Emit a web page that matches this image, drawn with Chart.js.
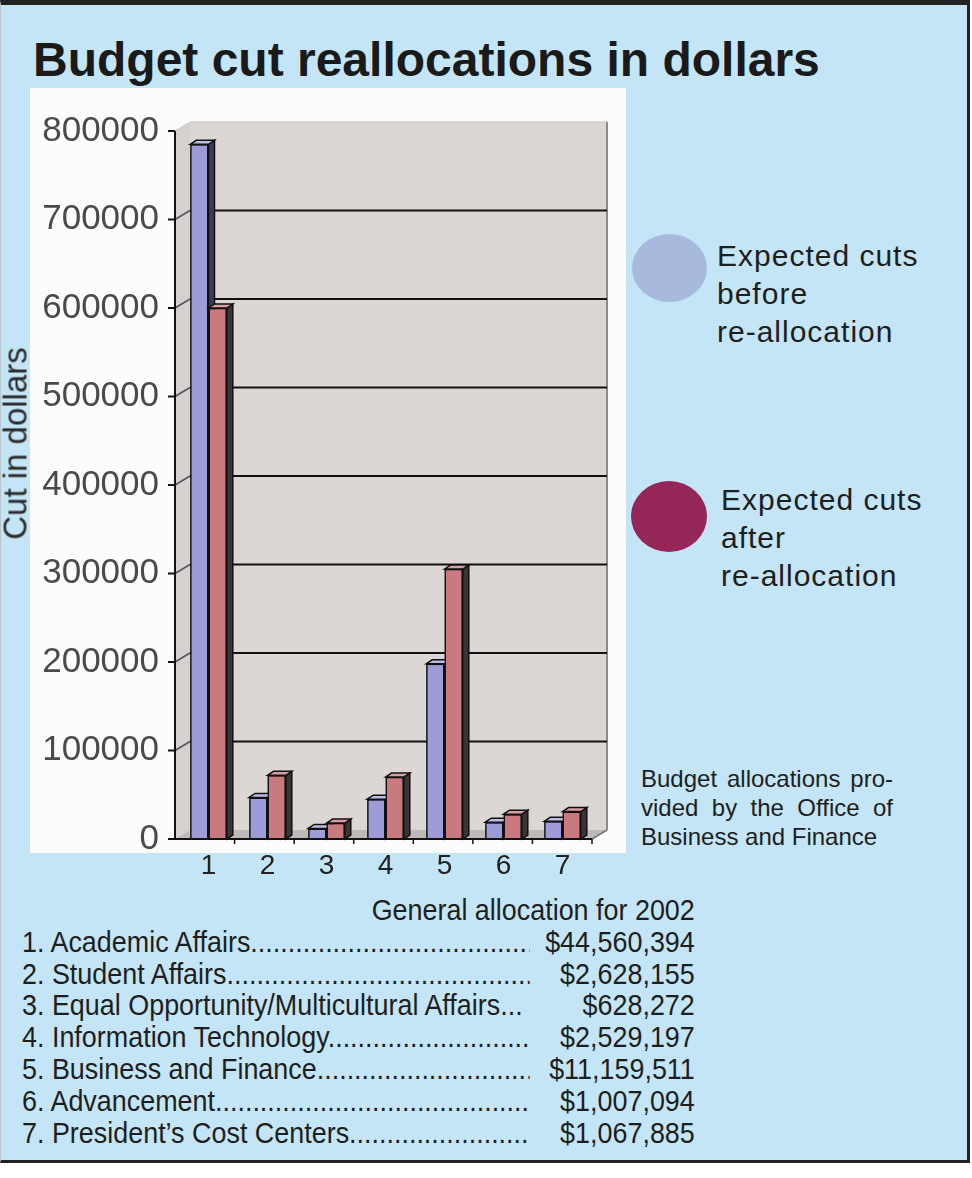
<!DOCTYPE html>
<html>
<head>
<meta charset="utf-8">
<title>Budget cut reallocations in dollars</title>
<script src="https://cdn.jsdelivr.net/npm/chart.js@4/dist/chart.umd.min.js"></script>
<style>
  body { margin: 0; background: #fff; font-family: "Liberation Sans", Arial, sans-serif; }
  #frame { position: absolute; left: 0; top: 0; width: 966px; height: 1155px; background: #c4e5f5;
           border-top: 5px solid #232323; border-right: 3px solid #232323; border-bottom: 3px solid #232323; border-left: 1px solid #b8c4ca; }
  .abs { position: absolute; }
  #title { left: 33px; top: 36px; font-size: 48px; font-weight: bold; line-height: 1; color: #1a1a1a; white-space: nowrap; }
  #panel { left: 30px; top: 88px; width: 596px; height: 765px; background: #fcfcfc; }
  #budgetChart { left: 0; top: 88px; }
  #ytitle { left: -85px; top: 427px; width: 200px; height: 33px; line-height: 33px; font-size: 33px; color: #2a2a2a;
            text-align: center; transform: rotate(-90deg); white-space: nowrap; }
  .dot { border-radius: 50%; }
  .legtext { font-size: 30px; line-height: 38px; color: #1e1e1e; letter-spacing: 1px; }
  #note { left: 641px; top: 764px; width: 252px; font-size: 24px; line-height: 29px; color: #1e1e1e; }
  #note div { text-align: justify; text-align-last: justify; white-space: nowrap; }
  #note div:last-child { text-align-last: left; }
  #table { left: 22px; top: 895px; width: 725px; font-size: 29px; line-height: 31.8px; color: #1e1e1e;
           transform: scaleX(0.928); transform-origin: left top; }
  #table .head { text-align: right; }
  #table .row { display: flex; white-space: nowrap; }
  #table .name { width: 547px; overflow: hidden; }
  #table .amount { flex: 1; text-align: right; }
</style>
</head>
<body>
<div id="frame"></div>
<div id="title" class="abs">Budget cut reallocations in dollars</div>
<div id="panel" class="abs"></div>
<canvas id="budgetChart" class="abs" width="625" height="800"></canvas>
<div id="ytitle" class="abs">Cut in dollars</div>

<div class="abs dot" style="left:632px; top:234px; width:75px; height:68px; background:#a8b9de;"></div>
<div class="abs legtext" style="left:717px; top:237px;">Expected cuts<br>before<br>re-allocation</div>
<div class="abs dot" style="left:631px; top:481px; width:76px; height:71px; background:#952658;"></div>
<div class="abs legtext" style="left:721px; top:481px;">Expected cuts<br>after<br>re-allocation</div>

<div id="note" class="abs">
  <div>Budget allocations pro-</div>
  <div>vided by the Office of</div>
  <div>Business and Finance</div>
</div>

<div id="table" class="abs"></div>

<script>
// ---------------- Chart data ---------------------------------------------
const categories = [ '1', '2', '3', '4', '5', '6', '7' ] ;
const cutsBefore = [ 785000, 47000, 12000, 45000, 198000, 19000, 20000 ] ;
const cutsAfter  = [ 600000, 72000, 18000, 70000, 305000, 28000, 31000 ] ;
const yMax = 800000 ;
const yStep = 100000 ;

// ---------------- Allocation table ---------------------------------------
const tableTitle = 'General allocation for 2002' ;
const unitNames = [
    'Academic Affairs', 'Student Affairs', 'Equal Opportunity/Multicultural Affairs...',
    'Information Technology', 'Business and Finance', 'Advancement', 'President\u2019s Cost Centers'
] ;
const unitAmounts = [ '$44,560,394', '$2,628,155', '$628,272', '$2,529,197', '$11,159,511', '$1,007,094', '$1,067,885' ] ;

// --- [START] Table -------------------------------------------------------
function buildTable() {
    const table = document.getElementById( 'table' ) ;
    const head = document.createElement( 'div' ) ;
    head.className = 'head' ;
    head.textContent = tableTitle ;
    table.appendChild( head ) ;

    unitNames.forEach( function( name, i ) {
        const row = document.createElement( 'div' ) ;
        row.className = 'row' ;
        const label = document.createElement( 'div' ) ;
        label.className = 'name' ;
        // names ending with "..." get no dot leader
        label.textContent = ( i + 1 ) + '. ' + name + ( name.endsWith( '...' ) ? '' : '.'.repeat( 80 ) ) ;
        const amount = document.createElement( 'div' ) ;
        amount.className = 'amount' ;
        amount.textContent = unitAmounts[i] ;
        row.appendChild( label ) ;
        row.appendChild( amount ) ;
        table.appendChild( row ) ;
    } ) ;
}
// --- [END] Table ---------------------------------------------------------

// --- [START] 3D look -----------------------------------------------------
const WALL = { x: 15, y: -9 } ;
const BAR = { x: 6, y: -4 } ;

function poly( ctx, pts, fill, stroke, lw ) {
    ctx.beginPath() ;
    ctx.moveTo( pts[0][0], pts[0][1] ) ;
    for ( let i = 1; i < pts.length; i++ ) ctx.lineTo( pts[i][0], pts[i][1] ) ;
    ctx.closePath() ;
    if ( fill ) { ctx.fillStyle = fill ; ctx.fill() ; }
    if ( stroke ) { ctx.strokeStyle = stroke ; ctx.lineWidth = lw || 1 ; ctx.stroke() ; }
}

function line( ctx, x1, y1, x2, y2, color, lw ) {
    ctx.beginPath() ;
    ctx.moveTo( x1, y1 ) ;
    ctx.lineTo( x2, y2 ) ;
    ctx.strokeStyle = color ;
    ctx.lineWidth = lw ;
    ctx.stroke() ;
}

const frame3d = {
    id: 'frame3d',
    beforeDatasetsDraw( chart ) {
        const ctx = chart.ctx ;
        const a = chart.chartArea ;
        const ys = chart.scales.y ;
        const ax = a.left - 4 ;
        ctx.save() ;
        // side wall, back wall, floor
        poly( ctx, [ [ax, a.top], [ax + WALL.x, a.top + WALL.y], [ax + WALL.x, a.bottom + WALL.y], [ax, a.bottom] ], '#d6d0ce' ) ;
        ctx.fillStyle = '#dcd6d4' ;
        ctx.fillRect( ax + WALL.x, a.top + WALL.y, a.right - ax, a.bottom - a.top ) ;
        poly( ctx, [ [ax, a.bottom], [ax + WALL.x, a.bottom + WALL.y], [a.right + WALL.x, a.bottom + WALL.y], [a.right, a.bottom] ], '#bfbab8' ) ;
        // wall edges
        line( ctx, ax, a.top, ax + WALL.x, a.top + WALL.y, '#c8c4c2', 1 ) ;
        line( ctx, ax + WALL.x, a.top + WALL.y, a.right + WALL.x, a.top + WALL.y, '#c8c4c2', 1 ) ;
        line( ctx, a.right + WALL.x, a.top + WALL.y, a.right + WALL.x, a.bottom + WALL.y, '#8e8a89', 2 ) ;
        line( ctx, a.right, a.bottom, a.right + WALL.x, a.bottom + WALL.y, '#777', 1.5 ) ;
        // grid lines on the back wall
        ys.ticks.forEach( function( t ) {
            if ( t.value <= 0 || t.value >= ys.max ) return ;
            const py = ys.getPixelForValue( t.value ) ;
            line( ctx, ax + WALL.x, py + WALL.y, a.right + WALL.x, py + WALL.y, '#111', 2 ) ;
            line( ctx, ax, py, ax + WALL.x, py + WALL.y, '#555', 1.5 ) ;
        } ) ;
        ctx.restore() ;
    },
    afterDatasetsDraw( chart ) {
        // redraw front faces in dataset order so each side face sits behind the next bar
        const ctx = chart.ctx ;
        ctx.save() ;
        chart.data.datasets.forEach( function( ds, i ) {
            chart.getDatasetMeta( i ).data.forEach( function( bar ) {
                bar.draw( ctx ) ;
                const p = bar.getProps( [ 'x', 'y', 'base', 'width' ], true ) ;
                const l = p.x - p.width / 2, r = p.x + p.width / 2 ;
                poly( ctx, [ [r, p.y], [r + BAR.x, p.y + BAR.y], [r + BAR.x, p.base + BAR.y], [r, p.base] ], ds.sideColor, '#111', 1.5 ) ;
                poly( ctx, [ [l, p.y], [l + BAR.x, p.y + BAR.y], [r + BAR.x, p.y + BAR.y], [r, p.y] ], ds.topColor, '#111', 1.5 ) ;
            } ) ;
        } ) ;
        ctx.restore() ;
    },
    afterDraw( chart ) {
        const ctx = chart.ctx ;
        const a = chart.chartArea ;
        const ys = chart.scales.y ;
        const ax = a.left - 4 ;
        ctx.save() ;
        line( ctx, ax, a.top, ax, a.bottom + 1, '#111', 2 ) ;
        line( ctx, ax - 1, a.bottom, a.right, a.bottom, '#111', 2 ) ;
        ys.ticks.forEach( function( t ) {
            const py = ys.getPixelForValue( t.value ) ;
            line( ctx, ax - 7, py, ax, py, '#111', 2 ) ;
        } ) ;
        const n = categories.length ;
        for ( let k = 1; k <= n; k++ ) {
            const px = ax + ( a.right - ax ) * k / n ;
            line( ctx, px, a.bottom, px, a.bottom + 5, '#111', 1.5 ) ;
        }
        ctx.restore() ;
    }
} ;
// --- [END] 3D look -------------------------------------------------------

function drawChart() {
    const ctx = document.getElementById( 'budgetChart' ).getContext( '2d' ) ;
    new Chart( ctx, {
        type: 'bar',
        data: {
            labels: categories,
            datasets: [ {
                label: 'Expected cuts before re-allocation',
                data: cutsBefore,
                backgroundColor: '#9e9cd6',
                topColor: '#bdbce6',
                sideColor: '#3d3c52',
                borderColor: '#111',
                borderWidth: 1.5
            }, {
                label: 'Expected cuts after re-allocation',
                data: cutsAfter,
                backgroundColor: '#c97a7e',
                topColor: '#dc9ea1',
                sideColor: '#3b3434',
                borderColor: '#111',
                borderWidth: 1.5
            } ]
        },
        options: {
            responsive: false,
            animation: false,
            categoryPercentage: 0.62,
            barPercentage: 1.0,
            layout: { padding: { top: 43, right: 33, left: 0, bottom: 0 } },
            plugins: { legend: { display: false }, tooltip: { enabled: false } },
            scales: {
                x: {
                    grid: { display: false, drawTicks: false },
                    border: { display: false },
                    ticks: { color: '#222', padding: 10, font: { family: '"Liberation Sans", Arial', size: 28 } },
                    afterFit: function( s ) { s.height = 49 ; }
                },
                y: {
                    min: 0,
                    max: yMax,
                    grid: { display: false, drawTicks: false },
                    border: { display: false },
                    ticks: {
                        stepSize: yStep, color: '#4a4a4a', padding: 20,
                        font: { family: '"Liberation Sans", Arial', size: 35 },
                        callback: function( v ) { return String( v ) ; }
                    },
                    afterFit: function( s ) { s.width = 179 ; }
                }
            }
        },
        plugins: [ frame3d ]
    } ) ;
}

buildTable() ;
drawChart() ;
</script>
</body>
</html>
